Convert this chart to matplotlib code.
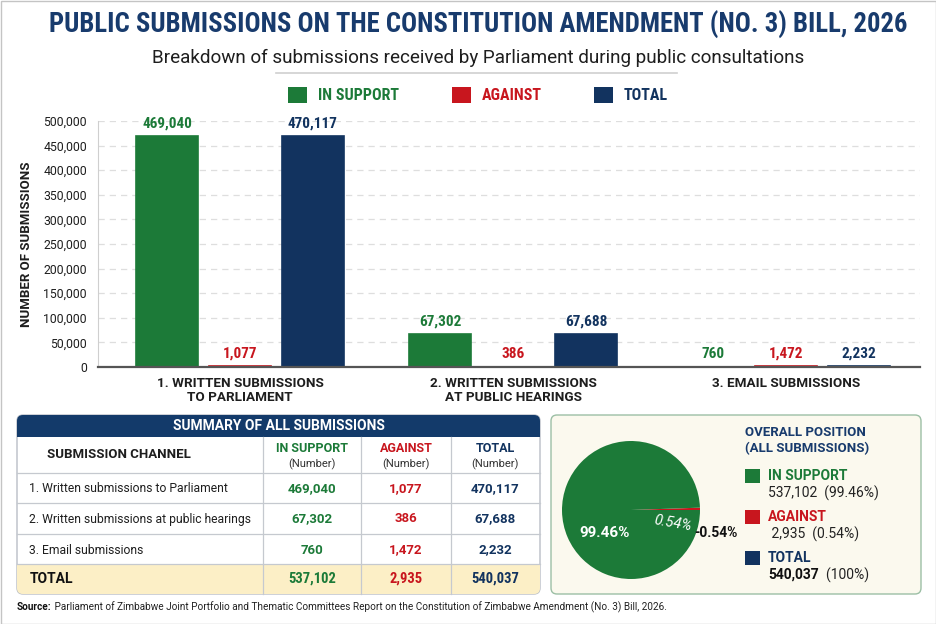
import matplotlib
matplotlib.use("Agg")
import matplotlib.pyplot as plt
from matplotlib import font_manager as fm
from matplotlib.patches import FancyBboxPatch, Rectangle

# ---------------- data ----------------
categories = ["1. WRITTEN SUBMISSIONS\nTO PARLIAMENT",
              "2. WRITTEN SUBMISSIONS\nAT PUBLIC HEARINGS",
              "3. EMAIL SUBMISSIONS"]
series_names = ["IN SUPPORT", "AGAINST", "TOTAL"]
in_support = [469040, 67302, 760]
against = [1077, 386, 1472]
total = [470117, 67688, 2232]
y_ticks = [0, 50000, 100000, 150000, 200000, 250000, 300000, 350000, 400000, 450000, 500000]

table_channels = ["1. Written submissions to Parliament",
                  "2. Written submissions at public hearings",
                  "3. Email submissions"]
total_support = 537102
total_against = 2935
grand_total = 540037

# ---------------- style ----------------
GREEN = "#1c7a38"
RED = "#c8161e"
NAVY = "#12335f"
TNAVY = "#183b6d"
DARK = "#1e1e1e"

names = {f.name for f in fm.fontManager.ttflist}
COND = next((n for n in ["Roboto Condensed", "Liberation Sans Narrow", "DejaVu Sans Condensed", "Open Sans Condensed"]
             if n in names), "Roboto")
BODY = "Roboto" if "Roboto" in names else "DejaVu Sans"
plt.rcParams["font.family"] = [BODY, "DejaVu Sans"]

W, H = 936, 624
fig = plt.figure(figsize=(W / 100, H / 100), dpi=100)
fig.patch.set_facecolor("white")


def fbox(x0, y0, x1, y1):
    return [x0 / W, 1 - y1 / H, (x1 - x0) / W, (y1 - y0) / H]


cv = fig.add_axes([0, 0, 1, 1], zorder=0)
cv.set_xlim(0, W)
cv.set_ylim(H, 0)
cv.axis("off")
cv.add_patch(Rectangle((0.5, 0.5), W - 1, H - 1, fill=False, ec="#c4c4c4", lw=1))

# ---------------- header ----------------
cv.text(478, 25, "PUBLIC SUBMISSIONS ON THE CONSTITUTION AMENDMENT (NO. 3) BILL, 2026",
        ha="center", va="center", fontsize=19.2, fontweight="bold", color=TNAVY, family=[COND, "DejaVu Sans"])
cv.text(478, 58, "Breakdown of submissions received by Parliament during public consultations",
        ha="center", va="center", fontsize=13.6, color=DARK)
cv.plot([276, 677], [73, 73], color="#cfcfcf", lw=1.2)

colors = [GREEN, RED, NAVY]
leg_x = [288, 452, 594]
for x, c, n in zip(leg_x, colors, series_names):
    cv.add_patch(Rectangle((x, 87), 19, 16, fc=c, ec="none"))
    cv.text(x + 30, 95, n, ha="left", va="center", fontsize=11.5, fontweight="bold",
            color=c, family=[COND, "DejaVu Sans"])

# ---------------- bar chart ----------------
ax = fig.add_axes(fbox(98, 121, 920, 367), zorder=2)
ax.set_facecolor("none")
offsets = [-0.267, 0.0, 0.267]
bw = 0.226
for vals, off, c in zip([in_support, against, total], offsets, colors):
    xs = [i + off for i in range(len(categories))]
    bars = ax.bar(xs, vals, width=bw, color=c, edgecolor=c, linewidth=1.2, zorder=3)
    for b, v in zip(bars, vals):
        ax.annotate(f"{v:,}", (b.get_x() + b.get_width() / 2, v), xytext=(0, 4),
                    textcoords="offset points", ha="center", va="bottom", fontsize=11,
                    fontweight="bold", color=c, family=[COND, "DejaVu Sans"])
ax.set_xlim(-0.52, 2.49)
ax.set_ylim(0, 500000)
ax.set_yticks(y_ticks)
ax.set_yticklabels([f"{t:,}" for t in y_ticks], fontsize=8.8, color=DARK)
ax.set_xticks(range(len(categories)))
ax.set_xticklabels(categories, fontsize=9.7, fontweight="bold", color=DARK, linespacing=1.15)
ax.tick_params(axis="both", length=0)
ax.tick_params(axis="y", pad=8)
ax.tick_params(axis="x", pad=7)
ax.yaxis.grid(True, color="#dedede", linestyle=(0, (5, 4)), lw=0.9, zorder=0)
ax.set_axisbelow(True)
for s in ["top", "right"]:
    ax.spines[s].set_visible(False)
ax.spines["left"].set_color("#cfcfcf")
ax.spines["bottom"].set_color("#555555")
ax.spines["bottom"].set_linewidth(1.6)
ax.spines["bottom"].set_zorder(4)
ax.set_ylabel("NUMBER OF SUBMISSIONS", fontsize=9.5, fontweight="bold", color=DARK, labelpad=7)

# ---------------- table ----------------
tx0, tx1, ty0, ty1 = 17, 540, 415, 594
outer = FancyBboxPatch((tx0, ty0), tx1 - tx0, ty1 - ty0, boxstyle="round,pad=0,rounding_size=6",
                       fc="white", ec="#b9bec6", lw=1.0, zorder=1)
cv.add_patch(outer)
band = Rectangle((tx0, ty0), tx1 - tx0, 22, fc="#133a6a", ec="none", zorder=1.1)
cv.add_patch(band)
band.set_clip_path(outer)
tot_bg = Rectangle((tx0, 564), tx1 - tx0, 30, fc="#fcefc6", ec="none", zorder=1.1)
cv.add_patch(tot_bg)
tot_bg.set_clip_path(outer)
for yy in [473, 503, 534, 564]:
    cv.plot([tx0, tx1], [yy, yy], color="#c5c9cf", lw=0.9, zorder=1.2)
for xx in [263, 361, 451]:
    cv.plot([xx, xx], [437, ty1], color="#c5c9cf", lw=0.9, zorder=1.2)
cv.text((tx0 + tx1) / 2, 426, "SUMMARY OF ALL SUBMISSIONS", ha="center", va="center",
        fontsize=10, fontweight="bold", color="white", zorder=2)
cv.text(47, 455, "SUBMISSION CHANNEL", ha="left", va="center", fontsize=9.5,
        fontweight="bold", color=DARK, zorder=2)
col_cx = [312, 406, 495]
for cx, n, c in zip(col_cx, series_names, colors):
    cv.text(cx, 449, n, ha="center", va="center", fontsize=9, fontweight="bold", color=c, zorder=2)
    cv.text(cx, 464, "(Number)", ha="center", va="center", fontsize=8, color="#333333", zorder=2)
row_y = [489, 519, 550]
for i, (ch, y) in enumerate(zip(table_channels, row_y)):
    cv.text(29, y, ch, ha="left", va="center", fontsize=8.7, color=DARK, zorder=2)
    for cx, vals, c in zip(col_cx, [in_support, against, total], colors):
        cv.text(cx, y, f"{vals[i]:,}", ha="center", va="center", fontsize=9.5,
                fontweight="bold", color=c, zorder=2)
cv.text(30, 579, "TOTAL", ha="left", va="center", fontsize=10, fontweight="bold", color="#111111", zorder=2)
for cx, v, c in zip(col_cx, [total_support, total_against, grand_total], colors):
    cv.text(cx, 579, f"{v:,}", ha="center", va="center", fontsize=10.5, fontweight="bold",
            color=c, zorder=2, family=[COND, "DejaVu Sans"])

# ---------------- pie panel ----------------
panel = FancyBboxPatch((551, 415), 921 - 551, 594 - 415, boxstyle="round,pad=0,rounding_size=6",
                       fc="#fbf9ee", ec="#9cbfa5", lw=1.0, zorder=1)
cv.add_patch(panel)

pax = fig.add_axes(fbox(562, 441, 700, 579), zorder=3)
pax.set_facecolor("none")
pie_values = [total_against, total_support]
pax.pie(pie_values, colors=[RED, GREEN], startangle=0, counterclock=True, radius=1.0,
        wedgeprops=dict(linewidth=0))
pax.set_xlim(-1, 1)
pax.set_ylim(-1, 1)
pax.set_aspect("equal")
pax.axis("off")
pct_support = total_support / grand_total * 100
pct_against = total_against / grand_total * 100
pax.text(-0.39, -0.33, f"{pct_support:.2f}%", ha="center", va="center", fontsize=11,
         fontweight="bold", color="white")
pax.text(0.61, -0.19, f"{pct_against:.2f}%", ha="center", va="center", fontsize=10.5,
         style="italic", color="white", rotation=-10)
pax.text(0.91, -0.33, f"-{pct_against:.2f}%", ha="left", va="center", fontsize=10,
         fontweight="bold", color="#111111", clip_on=False)

lx = 745
cv.text(lx, 433, "OVERALL POSITION", ha="left", va="center", fontsize=9.5, fontweight="bold", color=TNAVY, zorder=2)
cv.text(lx, 449, "(ALL SUBMISSIONS)", ha="left", va="center", fontsize=9.5, fontweight="bold", color=TNAVY, zorder=2)
leg_rows = [
    (469, "IN SUPPORT", GREEN, f"{total_support:,}  ({pct_support:.2f}%)"),
    (510, "AGAINST", RED, f" {total_against:,}  ({pct_against:.2f}%)"),
    (551, "TOTAL", NAVY, None),
]
for y, n, c, sub in leg_rows:
    cv.add_patch(Rectangle((lx, y), 15, 14, fc=c, ec="none", zorder=2))
    cv.text(lx + 23, y + 7, n, ha="left", va="center", fontsize=10, fontweight="bold", color=c, zorder=2)
    if sub:
        cv.text(lx + 23, y + 24, sub, ha="left", va="center", fontsize=10, color="#222222", zorder=2)
t1 = cv.text(lx + 23, 575, f"{grand_total:,}", ha="left", va="center", fontsize=10,
             fontweight="bold", color="#111111", zorder=2)
cv.annotate("  (100%)", xycoords=t1, xy=(1, 0.5), ha="left", va="center", fontsize=10,
            color="#222222", zorder=2)

# ---------------- source ----------------
s1 = cv.text(17, 607, "Source:", ha="left", va="center", fontsize=7.2, fontweight="bold", color="#111111")
cv.annotate(" Parliament of Zimbabwe Joint Portfolio and Thematic Committees Report on the Constitution of "
            "Zimbabwe Amendment (No. 3) Bill, 2026.", xycoords=s1, xy=(1, 0.5), ha="left", va="center",
            fontsize=7.2, color="#222222")

fig.savefig("out.png", dpi=100, facecolor="white")
